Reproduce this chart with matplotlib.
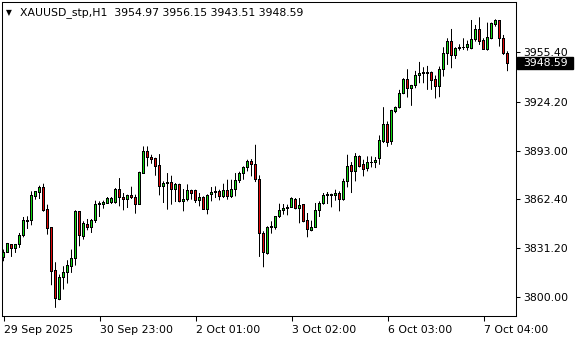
import matplotlib
matplotlib.use('Agg')
import matplotlib.pyplot as plt
from matplotlib.patches import Rectangle
import matplotlib.transforms as mtransforms

symbol_title = "XAUUSD_stp,H1"

opens = [
    3824.74, 3828.34, 3832.99, 3830.45, 3832.99, 3838.71, 3848.02, 3848.44, 3863.89, 3866.64,
    3869.82, 3855.85, 3843.78, 3816.70, 3798.29, 3812.04, 3815.21, 3819.03, 3824.10, 3854.16,
    3838.49, 3845.90, 3843.78, 3848.44, 3858.60, 3858.60, 3859.66, 3860.08, 3860.08, 3868.55,
    3863.47, 3861.78, 3864.53, 3863.47, 3859.02, 3878.49, 3892.67, 3888.87, 3887.81, 3883.79,
    3870.24, 3872.36, 3872.99, 3868.34, 3871.30, 3860.72, 3862.20, 3867.91, 3867.49, 3861.56,
    3863.47, 3855.64, 3865.16, 3866.22, 3866.85, 3864.10, 3867.91, 3864.10, 3868.12, 3874.05,
    3878.71, 3882.09, 3886.32, 3884.42, 3874.90, 3839.98, 3827.49, 3844.00, 3844.21, 3850.77,
    3855.21, 3856.06, 3857.12, 3861.77, 3856.48, 3858.60, 3848.44, 3842.30, 3843.78, 3855.21,
    3859.23, 3864.31, 3864.53, 3864.31, 3865.58, 3861.77, 3873.63, 3883.36, 3879.76, 3889.50,
    3884.00, 3881.88, 3885.27, 3885.48, 3887.81, 3898.81, 3909.39, 3898.60, 3917.65, 3920.40,
    3929.50, 3938.39, 3932.67, 3934.16, 3940.93, 3942.20, 3942.20, 3942.62, 3937.97, 3933.73,
    3944.31, 3954.47, 3962.09, 3953.42, 3957.65, 3958.28, 3958.71, 3958.07, 3963.36, 3969.71,
    3962.73, 3957.44, 3964.42, 3972.89, 3975.43, 3964.42, 3954.97,
]
highs = [
    3830.03, 3834.26, 3833.20, 3833.62, 3840.61, 3850.77, 3851.20, 3867.07, 3867.28, 3870.66,
    3871.93, 3858.60, 3844.40, 3821.99, 3814.15, 3819.45, 3823.26, 3830.03, 3855.00, 3854.37,
    3848.02, 3849.50, 3849.50, 3861.14, 3860.72, 3861.14, 3863.47, 3863.47, 3869.18, 3875.53,
    3866.01, 3864.95, 3870.03, 3864.95, 3879.55, 3895.64, 3895.64, 3890.35, 3888.44, 3890.77,
    3873.42, 3878.71, 3877.01, 3872.36, 3871.93, 3868.55, 3871.51, 3868.12, 3868.12, 3866.01,
    3863.89, 3865.16, 3869.82, 3870.24, 3868.12, 3871.93, 3874.47, 3874.47, 3878.71, 3879.55,
    3882.94, 3887.17, 3887.60, 3896.69, 3877.22, 3841.67, 3844.84, 3848.02, 3851.19, 3859.23,
    3859.02, 3858.60, 3863.26, 3862.83, 3862.83, 3859.02, 3853.31, 3848.44, 3859.66, 3860.72,
    3866.01, 3866.64, 3865.58, 3868.12, 3867.07, 3875.11, 3890.35, 3885.69, 3891.40, 3889.92,
    3887.17, 3889.29, 3889.29, 3888.86, 3902.62, 3920.61, 3911.51, 3918.92, 3921.03, 3931.62,
    3939.02, 3944.74, 3934.79, 3943.68, 3949.39, 3946.01, 3946.85, 3943.26, 3940.72, 3946.43,
    3958.71, 3964.42, 3970.35, 3958.71, 3960.61, 3964.42, 3962.94, 3976.06, 3972.89, 3977.75,
    3964.42, 3974.37, 3974.37, 3976.48, 3976.06, 3966.54, 3956.15,
]
lows = [
    3822.62, 3827.91, 3825.37, 3827.91, 3831.09, 3837.86, 3843.15, 3845.48, 3861.78, 3862.20,
    3854.16, 3839.55, 3807.38, 3793.00, 3797.86, 3804.63, 3808.44, 3815.21, 3819.87, 3832.14,
    3836.38, 3842.31, 3840.61, 3846.96, 3850.77, 3856.06, 3859.23, 3859.02, 3859.23, 3857.54,
    3855.00, 3856.48, 3862.20, 3852.89, 3858.60, 3878.49, 3882.94, 3884.63, 3877.01, 3864.53,
    3859.66, 3855.43, 3858.60, 3860.29, 3860.08, 3854.37, 3860.72, 3861.78, 3859.66, 3857.54,
    3855.43, 3852.46, 3860.72, 3862.83, 3861.35, 3862.83, 3861.78, 3862.83, 3863.89, 3872.36,
    3874.47, 3879.76, 3876.59, 3872.99, 3825.37, 3818.81, 3826.85, 3840.19, 3842.73, 3850.13,
    3852.25, 3851.83, 3856.48, 3855.64, 3846.75, 3847.38, 3837.86, 3841.67, 3843.78, 3850.77,
    3858.60, 3859.02, 3856.91, 3861.14, 3854.37, 3861.14, 3869.60, 3866.01, 3873.41, 3882.30,
    3876.59, 3879.76, 3882.30, 3881.88, 3884.00, 3897.80, 3895.40, 3896.70, 3916.80, 3919.76,
    3928.87, 3926.75, 3921.46, 3932.67, 3935.85, 3935.85, 3931.62, 3931.62, 3926.11, 3926.96,
    3940.08, 3947.49, 3945.37, 3951.30, 3956.59, 3957.01, 3956.59, 3957.44, 3962.30, 3960.19,
    3957.01, 3956.59, 3963.79, 3971.83, 3959.13, 3953.84, 3943.51,
]
closes = [
    3828.34, 3833.62, 3830.45, 3832.99, 3838.71, 3848.44, 3848.44, 3864.32, 3866.85, 3869.82,
    3855.00, 3843.57, 3816.27, 3798.71, 3812.04, 3815.42, 3819.87, 3824.53, 3854.37, 3839.13,
    3846.33, 3843.78, 3848.44, 3859.02, 3859.23, 3860.08, 3862.83, 3862.83, 3868.55, 3863.47,
    3861.78, 3864.53, 3863.04, 3859.02, 3879.13, 3892.67, 3888.65, 3887.17, 3882.94, 3870.24,
    3872.36, 3872.99, 3868.34, 3871.30, 3860.72, 3862.20, 3867.91, 3866.01, 3861.56, 3863.47,
    3855.64, 3864.74, 3866.22, 3866.85, 3864.10, 3867.91, 3864.10, 3868.55, 3874.05, 3878.71,
    3882.09, 3886.32, 3884.00, 3874.90, 3839.98, 3827.91, 3844.21, 3844.42, 3850.77, 3855.21,
    3856.06, 3857.12, 3862.41, 3856.48, 3858.39, 3848.02, 3842.51, 3843.78, 3855.21, 3859.23,
    3864.31, 3864.95, 3864.95, 3865.58, 3861.77, 3873.63, 3882.73, 3879.76, 3889.50, 3882.94,
    3881.25, 3885.69, 3885.69, 3886.54, 3899.23, 3909.39, 3898.00, 3918.28, 3920.61, 3929.50,
    3938.39, 3932.67, 3934.16, 3940.93, 3942.20, 3942.62, 3942.62, 3937.54, 3933.73, 3944.31,
    3954.47, 3962.09, 3953.42, 3957.65, 3958.28, 3958.71, 3960.19, 3963.36, 3969.71, 3962.30,
    3957.44, 3965.06, 3973.52, 3975.43, 3964.42, 3954.90, 3948.59,
]

y_ticks = [3800.00, 3831.20, 3862.40, 3893.00, 3924.20, 3955.40]
x_tick_labels = ["29 Sep 2025", "30 Sep 23:00", "2 Oct 01:00", "3 Oct 02:00",
                 "6 Oct 03:00", "7 Oct 04:00"]
bars_per_tick = 24

UP_COLOR = "#10d810"
DOWN_COLOR = "#e00808"
FS = 7.8

W, H = 580, 340
fig = plt.figure(figsize=(W / 100, H / 100), dpi=100)
fig.patch.set_facecolor("white")
ax_l, ax_r, ax_t, ax_b = 2, 516, 2, 316
ax = fig.add_axes([ax_l / W, (H - ax_b) / H, (ax_r - ax_l) / W, (ax_b - ax_t) / H])
ax.set_facecolor("white")

PX_PER_BAR = 4
x0 = -1.5 / PX_PER_BAR
ax.set_xlim(x0, x0 + (ax_r - ax_l) / PX_PER_BAR)
ymin, ymax = 3787.8, 3987.5
ax.set_ylim(ymin, ymax)
px_per_unit = (ax_b - ax_t) / (ymax - ymin)
one_px = 1 / px_per_unit

n = len(closes)
idx = list(range(n))

wicks = ax.vlines(idx, lows, highs, colors="black", linewidth=0.72, zorder=2)
wicks.set_snap(False)
for i in idx:
    o, c = opens[i], closes[i]
    col = UP_COLOR if c >= o else DOWN_COLOR
    lo, hi = min(o, c), max(o, c)
    # black outline, 3 px wide
    ax.add_patch(Rectangle((i - 0.375, lo - 0.5 * one_px), 0.75, (hi - lo) + one_px,
                           facecolor="black", edgecolor="none", zorder=3))
    # coloured interior, 1 px wide
    if hi - lo > 1.2 * one_px:
        ax.add_patch(Rectangle((i - 0.125, lo + 0.5 * one_px), 0.25, (hi - lo) - one_px,
                               facecolor=col, edgecolor="none", zorder=4))

for s in ax.spines.values():
    s.set_color("black")
    s.set_linewidth(0.75)

ax.yaxis.tick_right()
ax.set_yticks(y_ticks)
ax.set_yticklabels([f"{v:.2f}" for v in y_ticks])
ax.tick_params(axis="y", direction="out", length=3, width=0.75, pad=2,
               labelsize=FS, colors="black")

ax.set_xticks([k * bars_per_tick for k in range(len(x_tick_labels))])
ax.set_xticklabels(x_tick_labels, ha="left")
ax.tick_params(axis="x", direction="out", length=3.5, width=0.75, pad=3,
               labelsize=FS, colors="black")

# header
header = f"{symbol_title}  {opens[-1]:.2f} {highs[-1]:.2f} {lows[-1]:.2f} {closes[-1]:.2f}"
fig.text(20 / W, 1 - 13 / H, header, fontsize=FS, va="center", ha="left", color="black")
fig.text(6 / W, 1 - 13 / H, "\u25BC", fontsize=5.5, va="center", ha="left", color="black")

# current price label
trans = mtransforms.blended_transform_factory(ax.transAxes, ax.transData)
half_h = 6 * one_px
axw = ax_r - ax_l
ax.add_patch(Rectangle((1 + 1 / axw, closes[-1] - half_h), 56 / axw, 2 * half_h,
                       transform=trans, facecolor="black", edgecolor="black",
                       clip_on=False, zorder=5))
ax.text(1 + 7 / axw, closes[-1], f"{closes[-1]:.2f}", transform=trans, color="white",
        fontsize=FS, va="center", ha="left", zorder=6, clip_on=False)

fig.savefig("out.png", dpi=100, facecolor="white")
